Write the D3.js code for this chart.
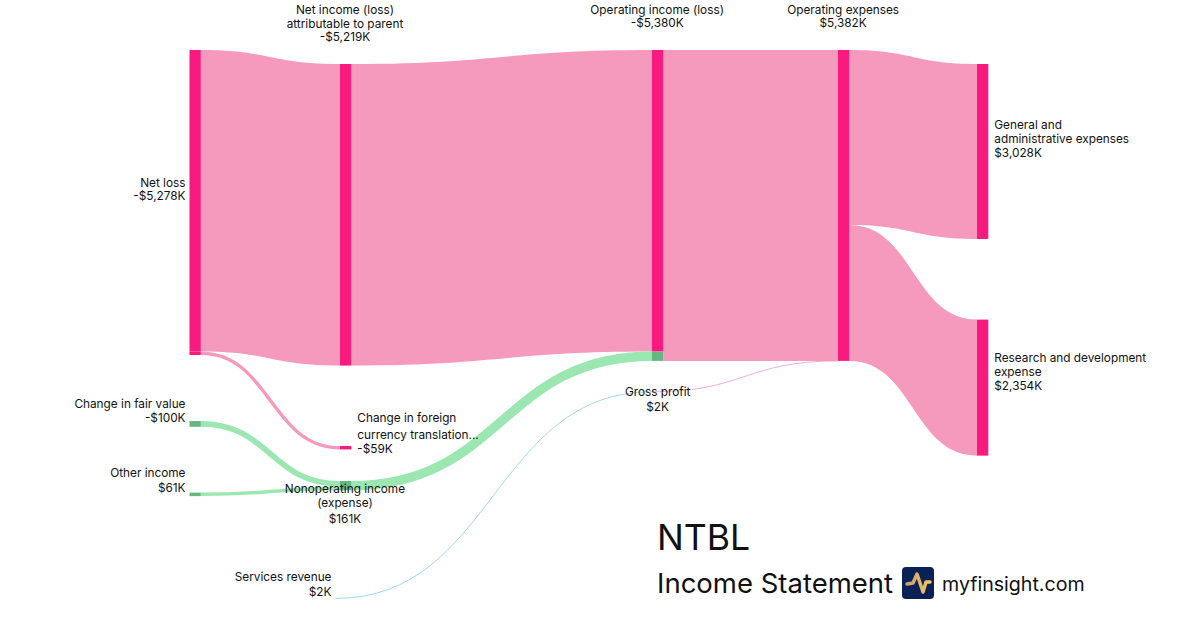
<!DOCTYPE html>
<html>
<head>
<meta charset="utf-8">
<script src="https://cdn.jsdelivr.net/npm/d3@7"></script>
<style>
  html, body { margin: 0; background: #fff; }
  text { font-family: Inter, "Noto Sans", sans-serif; fill: #111; }
</style>
</head>
<body>
<div id="container"></div>
<script>
const width = 1200;
const height = 630;

// Chart data
const nodeNames = [
  "Net loss", "Change in fair value", "Other income", "Services revenue",
  "Net income (loss) attributable to parent", "Change in foreign currency translation...",
  "Nonoperating income (expense)", "Operating income (loss)", "Gross profit",
  "Operating expenses", "General and administrative expenses", "Research and development expense"
];
const nodeValues = [-5278, -100, 61, 2, -5219, -59, 161, -5380, 2, 5382, 3028, 2354];
const nodeLabelLines = [
  ["Net loss"], ["Change in fair value"], ["Other income"], ["Services revenue"],
  ["Net income (loss)", "attributable to parent"], ["Change in foreign", "currency translation..."],
  ["Nonoperating income", "(expense)"], ["Operating income (loss)"], ["Gross profit"],
  ["Operating expenses"], ["General and", "administrative expenses"], ["Research and development", "expense"]
];
const linkSources = [0, 0, 4, 1, 2, 6, 3, 7, 8, 9, 9];
const linkTargets = [4, 5, 7, 6, 6, 7, 8, 9, 9, 10, 11];
const linkValues = [5219, 59, 5219, 100, 61, 161, 2, 5380, 2, 3028, 2354];
const linkKinds = ["loss", "loss", "loss", "gain", "gain", "gain", "revenue", "loss", "loss", "loss", "loss"];

// Layout settings
const nodeColumns = [0, 0, 0, 0.97, 1, 1, 1, 2, 2, 3, 4, 4];
const columnX = d3.scaleLinear().domain([0, 1, 2, 3, 4]).range([189.5, 340, 652, 838, 977]);
const nodeWidth = 11.3;
const thickness = d3.scaleLinear().domain([0, 5382]).range([0, 311]);
const nodeTops = [50, 421, 492.6, 598.4, 64, 446, 481, 50, 391.7, 50, 64, 319.6];
const labelPlacement = ["left", "left", "left", "left", "above", "right", "below", "above", "center", "above", "right", "right"];
// distance from one label line to the next
const labelGaps = [[13], [14], [15], [15], [14, 13.5], [16.7, 14], [14.5, 15.5], [13.5], [14.7], [13.5], [14, 14], [14, 14]];
const labelShiftX = [0, 0, 0, 0, -0.7, 0, -0.7, -0.5, 0, -0.5, 0, 0];
const labelShiftY = [0, 0, 0, 0, 0, 1, 0, 0, 0, 0, 1.5, -1.5];
const thinLink = 20;

const flowColor = { loss: "#f59abd", gain: "#9ce6b1", revenue: "#8ccbe8" };
const nodeColor = { loss: "#f91a80", gain: "#65b680", revenue: "#3b9cc8" };

const formatValue = v => (v < 0 ? "-" : "") + "$" + d3.format(",")(Math.abs(v)) + "K";

const nodes = nodeNames.map((name, i) => {
  const h = thickness(Math.abs(nodeValues[i]));
  const x0 = columnX(nodeColumns[i]);
  return {
    index: i,
    name,
    value: nodeValues[i],
    lines: nodeLabelLines[i].concat(formatValue(nodeValues[i])),
    x0,
    // nodes too thin to see have no bar, their links start at the left edge
    x1: h < 1 ? x0 : x0 + nodeWidth,
    y0: nodeTops[i],
    y1: nodeTops[i] + h,
    inY: nodeTops[i],
    outY: nodeTops[i]
  };
});

// Stack every link on its source and its target node
const links = linkValues.map((value, i) => {
  const source = nodes[linkSources[i]];
  const target = nodes[linkTargets[i]];
  const h = thickness(value);
  const link = { value, kind: linkKinds[i], source, target, sy: source.outY, ty: target.inY, h };
  source.outY += h;
  target.inY += h;
  return link;
});

const svg = d3.select("#container").append("svg")
  .attr("width", width)
  .attr("height", height)
  .style("display", "block");

// Wide flows: filled band with the same vertical height all along
function bandPath(d) {
  const x0 = d.source.x1, x1 = d.target.x0, xm = (x0 + x1) / 2;
  const p = d3.path();
  p.moveTo(x0, d.sy);
  p.bezierCurveTo(xm, d.sy, xm, d.ty, x1, d.ty);
  p.lineTo(x1, d.ty + d.h);
  p.bezierCurveTo(xm, d.ty + d.h, xm, d.sy + d.h, x0, d.sy + d.h);
  p.closePath();
  return p.toString();
}

// Narrow flows: a stroked centre line, so they keep their width on the slopes
const centreLine = d3.linkHorizontal()
  .source(d => [d.source.x1, d.sy + d.h / 2])
  .target(d => [d.target.x0, d.ty + d.h / 2]);

svg.append("g").selectAll("path")
  .data(links)
  .enter()
  .append("path")
  .attr("d", d => d.h < thinLink ? centreLine(d) : bandPath(d))
  .attr("fill", d => d.h < thinLink ? "none" : flowColor[d.kind])
  .attr("stroke", d => d.h < thinLink ? flowColor[d.kind] : "none")
  .attr("stroke-width", d => Math.max(d.h, 0.8));

// Node bars are split by the flows coming in, or going out when there are none
const segments = [];
nodes.forEach(n => {
  const incoming = links.filter(l => l.target === n);
  const list = incoming.length ? incoming : links.filter(l => l.source === n);
  list.forEach(l => {
    const y = incoming.length ? l.ty : l.sy;
    segments.push({ x: n.x0, y, h: l.h, kind: l.kind });
  });
});

svg.append("g").selectAll("rect")
  .data(segments.filter(d => d.h >= 1))
  .enter()
  .append("rect")
  .attr("x", d => d.x)
  .attr("y", d => d.y)
  .attr("width", nodeWidth)
  .attr("height", d => d.h)
  .attr("fill", d => nodeColor[d.kind]);

// Labels
function labelPosition(n) {
  const span = d3.sum(labelGaps[n.index]);
  const midX = n.x0 + nodeWidth / 2 + labelShiftX[n.index];
  const midY = (n.y0 + n.y1) / 2;
  switch (labelPlacement[n.index]) {
    case "left": return { x: n.x0 - 4, anchor: "end", y: midY - 6.5 - span };
    case "right": return { x: n.x0 + nodeWidth + 6, anchor: "start", y: midY + labelShiftY[n.index] - span };
    case "above": return { x: midX, anchor: "middle", y: n.y0 - 27 - span };
    case "below": return { x: midX, anchor: "middle", y: n.y1 - 2 };
    default: return { x: midX, anchor: "middle", y: n.y0 };
  }
}

svg.append("g").selectAll("text")
  .data(nodes)
  .enter()
  .append("text")
  .attr("font-size", 11.8)
  .each(function(d) {
    const pos = labelPosition(d);
    const offsets = d3.cumsum([0].concat(labelGaps[d.index]));
    d3.select(this).attr("text-anchor", pos.anchor)
      .selectAll("tspan")
      .data(d.lines)
      .enter()
      .append("tspan")
      .attr("x", pos.x)
      .attr("y", (l, i) => pos.y + offsets[i] + 4.3)
      .text(l => l);
  });

// Title block
svg.append("text").attr("x", 657).attr("y", 550).attr("font-size", 35.6).text("NTBL");
svg.append("text").attr("x", 657).attr("y", 593).attr("font-size", 27.5).text("Income Statement");
svg.append("text").attr("x", 942).attr("y", 591).attr("font-size", 19.6).text("myfinsight.com");

const logo = svg.append("g").attr("transform", "translate(902,567)");
const gradient = svg.append("defs").append("linearGradient").attr("id", "pulse");
gradient.append("stop").attr("offset", "0%").attr("stop-color", "#c9a06c");
gradient.append("stop").attr("offset", "100%").attr("stop-color", "#f5c860");
logo.append("rect").attr("width", 32).attr("height", 32).attr("rx", 4).attr("fill", "#0a2157");
logo.append("path")
  .attr("d", d3.line()([[5, 17], [11, 16], [15, 7], [21, 25], [24, 15], [28, 15]]))
  .attr("fill", "none")
  .attr("stroke", "url(#pulse)")
  .attr("stroke-width", 3.5)
  .attr("stroke-linecap", "round")
  .attr("stroke-linejoin", "round");
</script>
</body>
</html>
